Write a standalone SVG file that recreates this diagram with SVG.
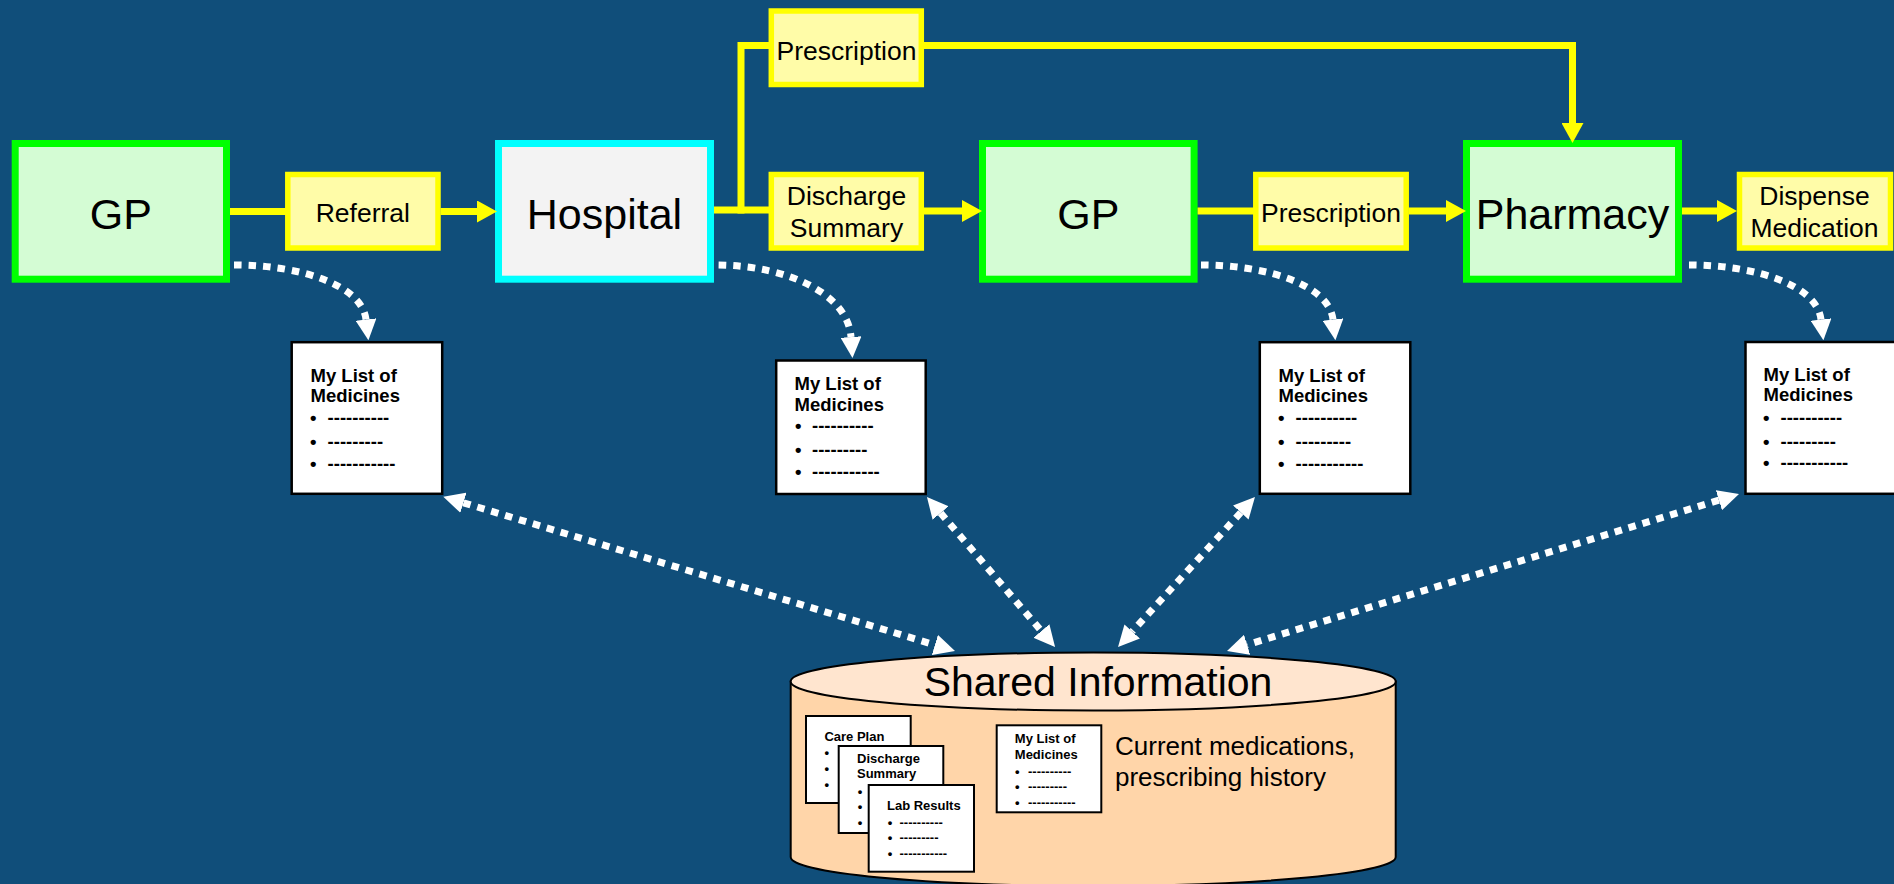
<svg xmlns="http://www.w3.org/2000/svg" width="1894" height="884" viewBox="0 0 1894 884">
<defs>
<style>
text{font-family:"Liberation Sans",Arial,sans-serif;fill:#000}
.big{fill:#d4fcd4;stroke:#00ff00;stroke-width:7}
.hosp{fill:#f3f3f3;stroke:#00ffff;stroke-width:7}
.lbl{fill:#fffca8;stroke:#ffff00;stroke-width:5.5}
.card{fill:#fff;stroke:#000;stroke-width:2.5}
.scard{fill:#fff;stroke:#000;stroke-width:2}
.flow{fill:none;stroke:#ffff00;stroke-width:7;stroke-linejoin:miter}
.dot{fill:none;stroke:#fff;stroke-width:7;stroke-dasharray:7.5 7}
.t43{font-size:43px;text-anchor:middle}
.t26{font-size:26.5px;text-anchor:middle}
.cb{font-size:18.5px;font-weight:bold}
.sb{font-size:13px;font-weight:bold}
.cyl{fill:#ffd5a9;stroke:#000;stroke-width:2}
.cyltop{fill:#ffe5cf;stroke:#000;stroke-width:2}
</style>
<marker id="ya" markerUnits="userSpaceOnUse" markerWidth="20" markerHeight="22" viewBox="0 0 20 22" refX="0" refY="11" orient="auto"><path d="M0 0 L20 11 L0 22 Z" fill="#ffff00"/></marker>
<marker id="wa" markerUnits="userSpaceOnUse" markerWidth="21" markerHeight="21" viewBox="0 0 21 21" refX="0" refY="10.5" orient="auto-start-reverse"><path d="M0 0 L21 10.5 L0 21 Z" fill="#fff"/></marker>
</defs>
<rect x="0" y="0" width="1894" height="884" fill="#104e7a"/>

<g id="gp1"><rect class="big" x="15.2" y="143.5" width="211.3" height="135.7"/><text class="t43" x="120.8" y="228.5">GP</text></g>
<g id="referral"><rect class="lbl" x="287.8" y="174.5" width="150.2" height="73.5"/><text class="t26" x="362.8" y="221.5">Referral</text></g>
<g id="hospital"><rect class="hosp" x="498.5" y="143.5" width="212" height="135.7"/><text class="t43" x="604.5" y="228.5">Hospital</text></g>
<g id="prescription-top"><rect class="lbl" x="771.3" y="11" width="150" height="73.5"/><text class="t26" x="846.5" y="59.5">Prescription</text></g>
<g id="discharge"><rect class="lbl" x="771.3" y="174.5" width="150" height="73.5"/><text class="t26" x="846.5" y="204.5">Discharge</text><text class="t26" x="846.5" y="236.5">Summary</text></g>
<g id="gp2"><rect class="big" x="982.5" y="143.5" width="211.6" height="135.7"/><text class="t43" x="1088.3" y="228.5">GP</text></g>
<g id="prescription2"><rect class="lbl" x="1255.8" y="174.5" width="150.4" height="73.5"/><text class="t26" x="1331" y="221.5">Prescription</text></g>
<g id="pharmacy"><rect class="big" x="1466.5" y="143.5" width="212" height="135.7"/><text class="t43" x="1572.5" y="228.5">Pharmacy</text></g>
<g id="dispense"><rect class="lbl" x="1739.5" y="174.5" width="151" height="73.5"/><text class="t26" x="1814.5" y="204.5">Dispense</text><text class="t26" x="1814.5" y="236.5">Medication</text></g>

<g id="list1"><rect class="card" x="291.7" y="342.2" width="150.5" height="151.6"/>
<text class="cb" x="310.5" y="381.5">My List of</text><text class="cb" x="310.5" y="401.5">Medicines</text>
<text class="cb" x="310" y="424">•</text><text class="cb" x="327.6" y="424">----------</text>
<text class="cb" x="310" y="447.5">•</text><text class="cb" x="327.6" y="447.5">---------</text>
<text class="cb" x="310" y="469.5">•</text><text class="cb" x="327.6" y="469.5">-----------</text></g>
<g id="list2"><rect class="card" x="776.2" y="360.5" width="149.5" height="133.5"/>
<text class="cb" x="794.5" y="390">My List of</text><text class="cb" x="794.5" y="410.5">Medicines</text>
<text class="cb" x="795" y="432">•</text><text class="cb" x="812" y="432">----------</text>
<text class="cb" x="795" y="455.5">•</text><text class="cb" x="812" y="455.5">---------</text>
<text class="cb" x="795" y="477.5">•</text><text class="cb" x="812" y="477.5">-----------</text></g>
<g id="list3"><rect class="card" x="1259.8" y="342.2" width="150.5" height="151.6"/>
<text class="cb" x="1278.5" y="381.5">My List of</text><text class="cb" x="1278.5" y="401.5">Medicines</text>
<text class="cb" x="1278" y="424">•</text><text class="cb" x="1295.6" y="424">----------</text>
<text class="cb" x="1278" y="447.5">•</text><text class="cb" x="1295.6" y="447.5">---------</text>
<text class="cb" x="1278" y="469.5">•</text><text class="cb" x="1295.6" y="469.5">-----------</text></g>
<g id="list4"><rect class="card" x="1745.5" y="342" width="151" height="151.8"/>
<text class="cb" x="1763.5" y="381">My List of</text><text class="cb" x="1763.5" y="401">Medicines</text>
<text class="cb" x="1763" y="424">•</text><text class="cb" x="1780.5" y="424">----------</text>
<text class="cb" x="1763" y="447.5">•</text><text class="cb" x="1780.5" y="447.5">---------</text>
<text class="cb" x="1763" y="469">•</text><text class="cb" x="1780.5" y="469">-----------</text></g>

<g id="shared">
<path class="cyl" d="M790.7 681.5 L790.7 857 A302.5 29 0 0 0 1395.7 857 L1395.7 681.5 Z"/>
<ellipse class="cyltop" cx="1093.2" cy="681.5" rx="302.5" ry="29"/>
<text x="1098" y="696" style="font-size:41px;text-anchor:middle">Shared Information</text>
<g id="careplan"><rect class="scard" x="806" y="716" width="104.7" height="87"/>
<text class="sb" x="824.4" y="740.7">Care Plan</text>
<text class="sb" x="824.5" y="756.5">•</text><text class="sb" x="824.5" y="773">•</text><text class="sb" x="824.5" y="789">•</text></g>
<g id="dischargedoc"><rect class="scard" x="838.7" y="746" width="104.6" height="87"/>
<text class="sb" x="857" y="762.7">Discharge</text><text class="sb" x="857" y="778.3">Summary</text>
<text class="sb" x="857.7" y="795.5">•</text><text class="sb" x="857.7" y="811">•</text><text class="sb" x="857.7" y="827">•</text></g>
<g id="labresults"><rect class="scard" x="868.7" y="785" width="105.3" height="86.7"/>
<text class="sb" x="887" y="810">Lab Results</text>
<text class="sb" x="887.7" y="826.5">•</text><text class="sb" x="899.5" y="826.5">----------</text>
<text class="sb" x="887.7" y="842">•</text><text class="sb" x="899.5" y="842">---------</text>
<text class="sb" x="887.7" y="858">•</text><text class="sb" x="899.5" y="858">-----------</text></g>
<g id="listdoc"><rect class="scard" x="996.7" y="725.3" width="104.6" height="87"/>
<text class="sb" x="1014.8" y="743.3">My List of</text><text class="sb" x="1014.8" y="759">Medicines</text>
<text class="sb" x="1015" y="775.5">•</text><text class="sb" x="1028" y="775.5">----------</text>
<text class="sb" x="1015" y="791">•</text><text class="sb" x="1028" y="791">---------</text>
<text class="sb" x="1015" y="807">•</text><text class="sb" x="1028" y="807">-----------</text></g>
<text x="1115" y="755" style="font-size:26px">Current medications,</text>
<text x="1115" y="786" style="font-size:26px">prescribing history</text>
</g>

<g id="connectors">
<path class="flow" d="M230 211.5 H287"/>
<path class="flow" d="M440.5 211.5 H477" marker-end="url(#ya)"/>
<path class="flow" d="M714 210 H769"/>
<path class="flow" d="M741 213.5 V45.5 H769"/>
<path class="flow" d="M924 45.5 H1572.5 V123" marker-end="url(#ya)"/>
<path class="flow" d="M924 211 H962" marker-end="url(#ya)"/>
<path class="flow" d="M1197.6 211 H1254"/>
<path class="flow" d="M1409 211 H1446" marker-end="url(#ya)"/>
<path class="flow" d="M1682 211 H1717" marker-end="url(#ya)"/>
<path class="dot" d="M234 265 C300 265 362 285 366 319.5" marker-end="url(#wa)"/>
<path class="dot" d="M718.6 265 C790 266 848 295 851 337" marker-end="url(#wa)"/>
<path class="dot" d="M1201 265 C1267 265 1329 285 1333 319.5" marker-end="url(#wa)"/>
<path class="dot" d="M1689 265 C1755 265 1817 285 1821 319.5" marker-end="url(#wa)"/>
<path class="dot" d="M463.4 502.8 L934.9 644.9" marker-start="url(#wa)" marker-end="url(#wa)"/>
<path class="dot" d="M940.6 513 L1041.4 631" marker-start="url(#wa)" marker-end="url(#wa)"/>
<path class="dot" d="M1240.8 512.5 L1132.2 631.5" marker-start="url(#wa)" marker-end="url(#wa)"/>
<path class="dot" d="M1718.9 500.2 L1247.1 644.8" marker-start="url(#wa)" marker-end="url(#wa)"/>
</g>
</svg>
